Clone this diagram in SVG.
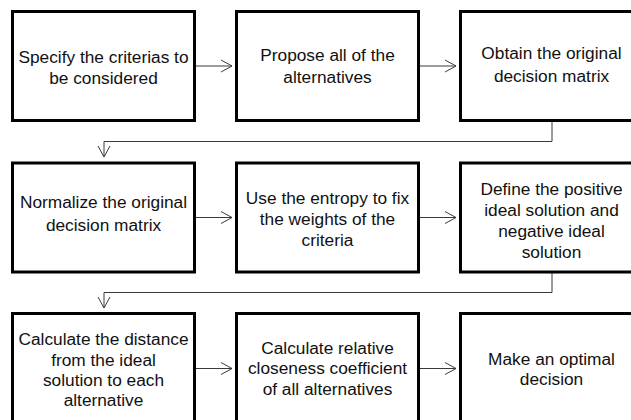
<svg xmlns="http://www.w3.org/2000/svg" width="631" height="420" viewBox="0 0 631 420">
<defs>
<style>
.box{fill:#fff;stroke:#000;stroke-width:3}
.t{font-family:"Liberation Sans",Arial,sans-serif;font-size:17.3px;fill:#111;text-anchor:middle}
.c{fill:none;stroke:#3a3a3a;stroke-width:1}
</style>
<marker id="ah" markerWidth="14" markerHeight="14" refX="12" refY="7" orient="auto" markerUnits="userSpaceOnUse">
<path d="M1,1 L12,7 L1,13" fill="none" stroke="#3a3a3a" stroke-width="1"/>
</marker>
</defs>
<rect width="631" height="420" fill="#fff"/>
<g id="connectors">
<line class="c" x1="194.5" y1="66" x2="232" y2="66" marker-end="url(#ah)"/>
<line class="c" x1="418.5" y1="66" x2="456" y2="66" marker-end="url(#ah)"/>
<polyline class="c" points="552,122 552,141.5 104,141.5 104,157" marker-end="url(#ah)"/>
<line class="c" x1="194.5" y1="217.5" x2="232" y2="217.5" marker-end="url(#ah)"/>
<line class="c" x1="418.5" y1="217.5" x2="456" y2="217.5" marker-end="url(#ah)"/>
<polyline class="c" points="552,273 552,292.5 104,292.5 104,308" marker-end="url(#ah)"/>
<line class="c" x1="194.5" y1="368.5" x2="232" y2="368.5" marker-end="url(#ah)"/>
<line class="c" x1="418.5" y1="368.5" x2="456" y2="368.5" marker-end="url(#ah)"/>
</g>
<g id="n1"><rect class="box" x="12.5" y="11.5" width="182" height="109"/>
<text class="t" x="103.5" y="63">Specify the criterias to</text><text class="t" x="103.5" y="84">be considered</text></g>
<g id="n2"><rect class="box" x="236.5" y="11.5" width="182" height="109"/>
<text class="t" x="327.5" y="61">Propose all of the</text><text class="t" x="327.5" y="83">alternatives</text></g>
<g id="n3"><rect class="box" x="460.5" y="11.5" width="182" height="109"/>
<text class="t" x="551.5" y="59">Obtain the original</text><text class="t" x="551.5" y="82">decision matrix</text></g>
<g id="n4"><rect class="box" x="12.5" y="163" width="182" height="109"/>
<text class="t" x="103.5" y="208">Normalize the original</text><text class="t" x="103.5" y="231">decision matrix</text></g>
<g id="n5"><rect class="box" x="236.5" y="163" width="182" height="109"/>
<text class="t" x="327.5" y="204">Use the entropy to fix</text><text class="t" x="327.5" y="225">the weights of the</text><text class="t" x="327.5" y="245.5">criteria</text></g>
<g id="n6"><rect class="box" x="460.5" y="163" width="182" height="109"/>
<text class="t" x="551.5" y="195">Define the positive</text><text class="t" x="551.5" y="216">ideal solution and</text><text class="t" x="551.5" y="237">negative ideal</text><text class="t" x="551.5" y="257.5">solution</text></g>
<g id="n7"><rect class="box" x="12.5" y="313.5" width="182" height="109"/>
<text class="t" x="103.5" y="345">Calculate the distance</text><text class="t" x="103.5" y="365.5">from the ideal</text><text class="t" x="103.5" y="385.5">solution to each</text><text class="t" x="103.5" y="405.5">alternative</text></g>
<g id="n8"><rect class="box" x="236.5" y="313.5" width="182" height="109"/>
<text class="t" x="327.5" y="354">Calculate relative</text><text class="t" x="327.5" y="374">closeness coefficient</text><text class="t" x="327.5" y="394.5">of all alternatives</text></g>
<g id="n9"><rect class="box" x="460.5" y="313.5" width="182" height="109"/>
<text class="t" x="551.5" y="365">Make an optimal</text><text class="t" x="551.5" y="385">decision</text></g>
</svg>
